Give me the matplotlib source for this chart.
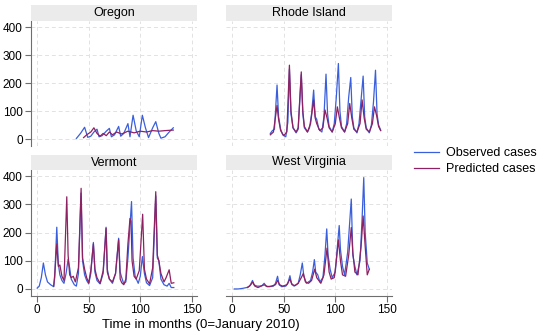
import matplotlib
matplotlib.use("Agg")
import matplotlib.pyplot as plt
from matplotlib.lines import Line2D

plt.rcParams['font.family'] = ['Liberation Sans', 'DejaVu Sans']

OBS_COLOR = "#3a5fdc"
PRED_COLOR = "#8e2161"
GRID_COLOR = "#e2e2e2"
AXIS_COLOR = "#6e6e6e"
STRIP_COLOR = "#ebebeb"

STATES = ["Oregon", "Rhode Island", "Vermont", "West Virginia"]

# Oregon
or_obs_t = [38, 42, 46, 49, 52, 55, 58, 60, 63, 67, 70, 72, 75, 79, 81, 84, 88, 90, 93, 96, 99, 102, 105, 108, 112, 115, 118, 120, 124, 128, 132]
or_obs_v = [2, 20, 42, 6, 10, 25, 35, 8, 12, 28, 38, 8, 15, 45, 10, 20, 55, 8, 85, 30, 8, 85, 40, 5, 40, 62, 20, 3, 8, 25, 40]
or_pred_t = [45, 48, 52, 55, 58, 61, 64, 67, 70, 73, 77, 82, 88, 94, 100, 106, 112, 118, 124, 132]
or_pred_v = [5, 15, 25, 40, 20, 10, 20, 12, 25, 15, 25, 18, 28, 22, 28, 25, 30, 28, 30, 32]

# Rhode Island
ri_obs_t = [37, 39, 41, 43.5, 45, 47, 49, 52, 54, 55.5, 57, 59, 62, 64, 67, 68.5, 70, 73, 75, 77, 79, 80.5, 82, 84, 87, 89, 91, 92.5, 94, 97, 99, 101, 103, 104.5, 106, 109, 111, 113, 115, 116.5, 118, 121, 123, 125, 127, 128.5, 130, 133, 135, 137, 139, 140.5, 142, 144]
ri_obs_v = [20, 30, 35, 193, 80, 35, 15, 8, 60, 250, 90, 40, 22, 35, 230, 90, 40, 25, 40, 90, 175, 80, 70, 35, 25, 80, 232, 90, 45, 25, 55, 150, 270, 100, 45, 25, 55, 150, 220, 80, 40, 22, 55, 140, 225, 80, 40, 22, 50, 130, 246, 90, 50, 32]
ri_pred_t = [37, 40, 43.5, 45, 47, 50, 53, 55.5, 57, 59, 62, 64, 67, 68.5, 70, 73, 76, 79, 80.5, 82, 85, 88, 90, 92, 94, 97, 100, 102, 104, 106, 109, 112, 114, 116, 118, 121, 124, 126, 128, 130, 133, 136, 138, 140, 142, 144]
ri_pred_v = [15, 25, 120, 70, 30, 12, 25, 264, 100, 40, 25, 40, 240, 100, 45, 25, 55, 140, 75, 55, 30, 40, 104, 75, 40, 25, 55, 115, 75, 40, 25, 55, 127, 75, 35, 25, 55, 140, 75, 35, 25, 55, 115, 85, 45, 30]

# Vermont
vt_obs_t = [0, 2, 4, 6, 8, 10, 13, 16, 17, 19, 20.5, 22, 24, 26, 28, 30, 31.5, 33, 36, 38, 40, 42.5, 44, 46, 48, 50, 52, 54.5, 56, 58, 61, 64, 66.8, 68, 70, 73, 76, 79, 80.5, 82, 84, 86, 88, 91.5, 93, 95, 98, 100, 102, 104, 106, 109, 112, 115, 116.5, 118, 120, 123, 126, 128, 130, 132.5]
vt_obs_v = [3, 10, 40, 92, 50, 25, 15, 8, 40, 219, 90, 50, 30, 20, 55, 105, 75, 35, 15, 10, 55, 340, 100, 50, 30, 18, 55, 165, 60, 30, 18, 55, 219, 70, 35, 20, 55, 180, 60, 40, 18, 25, 110, 310, 110, 45, 20, 45, 115, 55, 22, 12, 40, 330, 110, 100, 35, 15, 10, 20, 5, 5]
vt_pred_t = [16, 17, 19, 20.5, 22, 24, 26, 28.7, 30, 31.5, 33, 35, 37, 40, 42.6, 44, 46, 48, 50, 52, 54.5, 56, 58, 61, 64, 66.8, 68, 70, 73, 76, 79, 80.5, 82, 84, 86, 88, 90, 91, 92, 94, 96, 99, 102.3, 104, 106, 109, 112, 115, 116.5, 118, 120, 123, 125, 128, 130, 132.5]
vt_pred_v = [10, 50, 160, 80, 85, 45, 30, 327, 120, 50, 40, 45, 25, 75, 357, 110, 70, 40, 22, 65, 160, 70, 40, 20, 65, 215, 60, 35, 25, 55, 175, 35, 22, 15, 35, 160, 250, 240, 100, 45, 35, 65, 265, 70, 35, 18, 75, 345, 120, 100, 55, 25, 40, 68, 20, 22]

# West Virginia
wv_obs_t = [2, 6, 10, 14, 17, 19.7, 21, 24, 27, 29, 31, 33, 36, 40, 42, 44, 45.5, 48, 52, 54, 56, 57.5, 60, 64, 66, 68, 69.5, 72, 76, 78, 79.7, 81, 83, 85, 88, 90, 91.7, 93, 95, 97, 100, 102, 103.8, 105, 107, 109, 112, 115.5, 117, 119, 121, 124, 126, 127.6, 129, 131, 133]
wv_obs_v = [0, 0, 2, 5, 10, 30, 15, 10, 10, 12, 20, 10, 8, 10, 20, 45, 15, 8, 10, 20, 47, 20, 10, 20, 50, 92, 45, 20, 30, 60, 104, 60, 50, 25, 40, 120, 213, 120, 70, 40, 60, 150, 225, 140, 80, 50, 130, 319, 120, 80, 50, 100, 250, 395, 200, 92, 70]
wv_pred_t = [15, 18, 20, 22, 25, 28, 31, 34, 38, 42, 44, 46, 49, 53, 56, 58, 61, 64, 67, 69, 71, 74, 77, 80, 82, 84, 86, 89, 92, 94, 96, 99, 101, 103, 105, 107, 110, 113, 115.5, 117, 119, 122, 125, 127, 129, 131, 133]
wv_pred_v = [5, 15, 25, 10, 5, 10, 15, 8, 10, 15, 30, 15, 10, 15, 35, 15, 12, 20, 40, 55, 25, 20, 30, 70, 40, 30, 20, 50, 145, 60, 35, 40, 100, 174, 100, 50, 45, 120, 218, 130, 60, 50, 150, 259, 150, 50, 70]

SERIES = [
    (or_obs_t, or_obs_v, or_pred_t, or_pred_v),
    (ri_obs_t, ri_obs_v, ri_pred_t, ri_pred_v),
    (vt_obs_t, vt_obs_v, vt_pred_t, vt_pred_v),
    (wv_obs_t, wv_obs_v, wv_pred_t, wv_pred_v),
]

Y_TICKS = [0, 100, 200, 300, 400]
X_TICKS = [0, 50, 100, 150]

W, H = 550, 336
fig = plt.figure(figsize=(W / 100, H / 100), dpi=100)

# panel boxes in pixels: left, top, right, bottom of plot region, then strip top
PANELS = [
    (31, 21, 197, 146, 5),
    (226, 21, 392, 146, 5),
    (31, 170, 197, 296, 155),
    (226, 170, 392, 296, 155),
]


def px_rect(l, t, r, b):
    return [l / W, 1 - b / H, (r - l) / W, (b - t) / H]


for i, (l, t, r, b, st) in enumerate(PANELS):
    ax = fig.add_axes(px_rect(l, t, r, b))
    obs_t, obs_v, pred_t, pred_v = SERIES[i]
    ax.plot(obs_t, obs_v, color=OBS_COLOR, lw=0.9, zorder=3)
    ax.plot(pred_t, pred_v, color=PRED_COLOR, lw=0.9, zorder=4)
    ax.set_xlim(-6, 155)
    ax.set_ylim(-25, 422)
    ax.set_xticks(X_TICKS)
    ax.set_yticks(Y_TICKS)
    ax.grid(True, color=GRID_COLOR, lw=0.7, ls=(0, (4, 3)))
    ax.set_axisbelow(True)
    for s in ["top", "right"]:
        ax.spines[s].set_visible(False)
    left_col = i % 2 == 0
    bottom_row = i >= 2
    ax.spines["left"].set_visible(left_col)
    ax.spines["bottom"].set_visible(bottom_row)
    ax.spines["left"].set_color(AXIS_COLOR)
    ax.spines["bottom"].set_color(AXIS_COLOR)
    ax.tick_params(axis="y", left=left_col, labelleft=left_col, length=4,
                   color=AXIS_COLOR, labelsize=8.5, pad=2)
    ax.tick_params(axis="x", bottom=bottom_row, labelbottom=bottom_row, length=4,
                   color=AXIS_COLOR, labelsize=8.5, pad=2)

    sax = fig.add_axes(px_rect(l, st, r, t))
    sax.set_facecolor(STRIP_COLOR)
    sax.set_xticks([])
    sax.set_yticks([])
    for s in sax.spines.values():
        s.set_visible(False)
    sax.text(0.5, 0.5, STATES[i], ha="center", va="center", fontsize=9)

fig.text(201 / W, 1 - 325 / H, "Time in months (0=January 2010)",
         ha="center", va="center", fontsize=9.5)

handles = [Line2D([], [], color=OBS_COLOR, lw=0.9),
           Line2D([], [], color=PRED_COLOR, lw=0.9)]
fig.legend(handles, ["Observed cases", "Predicted cases"], loc="center left",
           bbox_to_anchor=(403 / W, 1 - 161 / H), frameon=False, fontsize=9,
           handlelength=2.0, handletextpad=0.5, labelspacing=0.3)

fig.savefig("out.png", dpi=100, facecolor="white")
